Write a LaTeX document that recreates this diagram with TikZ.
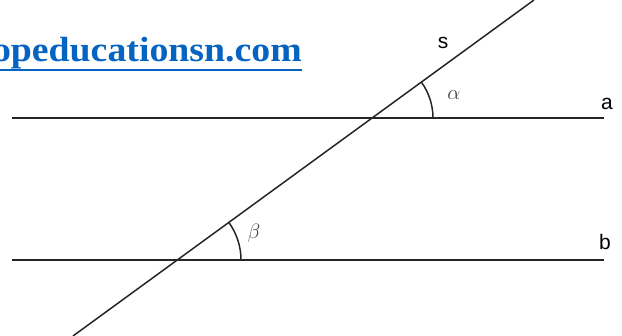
\documentclass[tikz,border=0pt]{standalone}
\usepackage{fontspec}
\newfontfamily\labelfont{Liberation Sans}
\newfontfamily\webfont[FakeStretch=1.08]{Liberation Serif}
\definecolor{linkBlue}{HTML}{0563C1}
\begin{document}
\begin{tikzpicture}[x=1pt,y=1pt]
  \tikzstyle{lineStyle}=[line width=1.5pt,draw=black!85]
  \tikzstyle{letterStyle}=[font=\labelfont\fontsize{21}{21}\selectfont,inner sep=0pt]
  \tikzstyle{angleStyle}=[font=\fontsize{22}{22}\selectfont,text=black!75,inner sep=0pt]
  \tikzstyle{webStyle}=[font=\webfont\bfseries\fontsize{35}{35}\selectfont,text=linkBlue,inner sep=0pt,anchor=base east]

  \useasboundingbox (0,0) rectangle (622,336);
  \clip (0,0) rectangle (622,336);

  % site name, cut at the left edge
  \node[webStyle](site) at (302,274) {www.topeducationsn.com};
  \draw[linkBlue,line width=1.8pt] ([yshift=-8pt]site.base west) -- ([yshift=-8pt]site.base east);

  % the two parallels and the secant
  \coordinate (aLeft) at (12,218);
  \coordinate (aRight) at (604,218);
  \coordinate (bLeft) at (12,76);
  \coordinate (bRight) at (604,76);
  \coordinate (sLow) at (73,0);
  \coordinate (sHigh) at (534,336);
  \coordinate (P) at (372,218);
  \coordinate (Q) at (177,76);
  \draw[lineStyle] (aLeft) -- (aRight);
  \draw[lineStyle] (bLeft) -- (bRight);
  \draw[lineStyle] (sLow) -- (sHigh);

  % angles
  \draw[lineStyle] (P) ++(0:61) arc (0:36:61);
  \draw[lineStyle] (Q) ++(0:64) arc (0:36:64);

  \node[letterStyle](s) at (443,293) {s};
  \node[letterStyle](a) at (607,232) {a};
  \node[letterStyle](b) at (605,94) {b};
  \node[angleStyle](alpha) at (454,241) {$\alpha$};
  \node[angleStyle](beta) at (254,103) {$\beta$};
\end{tikzpicture}
\end{document}
